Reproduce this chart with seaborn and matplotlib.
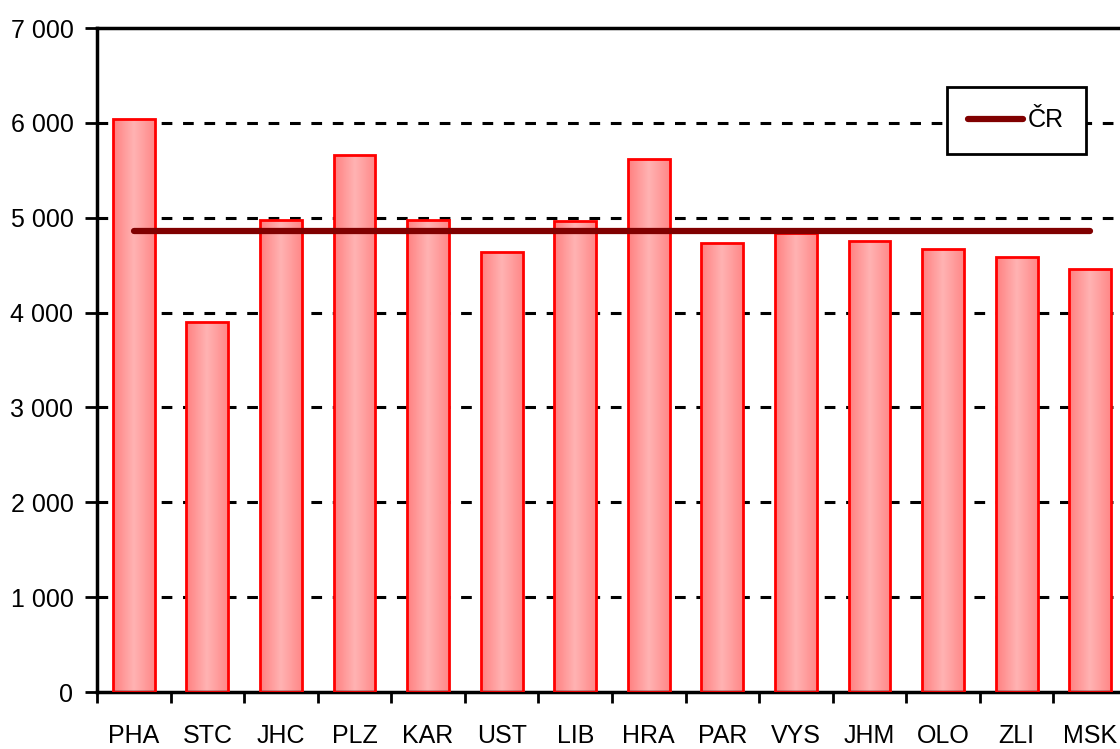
import numpy as np
import pandas as pd
import seaborn as sns
import matplotlib.pyplot as plt
from matplotlib.colors import LinearSegmentedColormap
from matplotlib.ticker import FuncFormatter, FixedLocator

# kraje a hodnoty
regions = ['PHA', 'STC', 'JHC', 'PLZ', 'KAR', 'UST', 'LIB', 'HRA',
           'PAR', 'VYS', 'JHM', 'OLO', 'ZLI', 'MSK']
values = [6040, 3900, 4975, 5660, 4975, 4640, 4965, 5620,
          4735, 4840, 4755, 4670, 4585, 4460]
cr_value = 4860

df = pd.DataFrame({'kraj': regions, 'hodnota': values})
df_cr = pd.DataFrame({'kraj': regions, 'cr': [cr_value] * len(regions)})

sns.set_style('white')
plt.rcParams['font.family'] = ['Liberation Sans', 'DejaVu Sans']
plt.rcParams['text.color'] = 'black'
plt.rcParams['xtick.color'] = 'black'
plt.rcParams['ytick.color'] = 'black'

fig = plt.figure(figsize=(11.2, 7.49), dpi=100)
ax = fig.add_axes([97 / 1120, 1 - 692 / 749, 1030 / 1120, 664 / 749])

sns.barplot(data=df, x='kraj', y='hodnota', ax=ax, width=0.57,
            color='#ffa0a0', edgecolor='#ff0000', linewidth=2, zorder=2)
sns.lineplot(data=df_cr, x='kraj', y='cr', ax=ax, color='#800000',
             linewidth=4.5, solid_capstyle='round', label='ČR', zorder=4)

ax.set_xlim(-0.5, len(regions) - 0.5)
ax.set_ylim(0, 7000)

# gradient ve sloupcich
cmap = LinearSegmentedColormap.from_list('g', ['#ff8080', '#ffb3b3', '#ff8888'])
grad = np.linspace(0, 1, 64).reshape(1, -1)
for p in ax.patches:
    x, y = p.get_x(), p.get_y()
    w, h = p.get_width(), p.get_height()
    im = ax.imshow(grad, extent=[x, x + w, y, y + h], aspect='auto',
                   cmap=cmap, zorder=2, interpolation='bicubic')
    im.set_clip_path(p)
    p.set_facecolor('none')
    p.set_zorder(3)
ax.set_xlim(-0.5, len(regions) - 0.5)
ax.set_ylim(0, 7000)
ax.set_aspect('auto')

# mrizka
for v in range(1000, 7000, 1000):
    ax.axhline(v, color='black', linestyle=(0, (3.5, 3.5)), linewidth=2.2, zorder=1)

ax.yaxis.set_major_locator(FixedLocator(range(0, 7001, 1000)))
ax.yaxis.set_major_formatter(FuncFormatter(lambda v, p: f'{int(v):,}'.replace(',', ' ')))
ax.tick_params(axis='y', direction='out', length=9, width=2, labelsize=18,
               left=True, pad=8)
ax.set_xticks(range(len(regions)))
ax.set_xticklabels(regions)
ax.set_xticks(np.arange(-0.5, len(regions), 1), minor=True)
ax.tick_params(axis='x', which='major', length=0, labelsize=18, pad=23)
ax.tick_params(axis='x', which='minor', direction='out', length=8, width=2,
               bottom=True)

for s in ['left', 'bottom', 'top']:
    ax.spines[s].set_color('black')
    ax.spines[s].set_linewidth(2.5)
ax.spines['right'].set_visible(False)
ax.set_xlabel('')
ax.set_ylabel('')

leg = ax.legend(loc='upper left', bbox_to_anchor=(850 / 1030, 1 - 59 / 664),
                fontsize=18, frameon=True, fancybox=False, framealpha=1,
                edgecolor='black', handlelength=2.2, handletextpad=0.2,
                borderpad=0.85, borderaxespad=0)
leg.get_frame().set_linewidth(2)

fig.savefig('out.png', dpi=100)
